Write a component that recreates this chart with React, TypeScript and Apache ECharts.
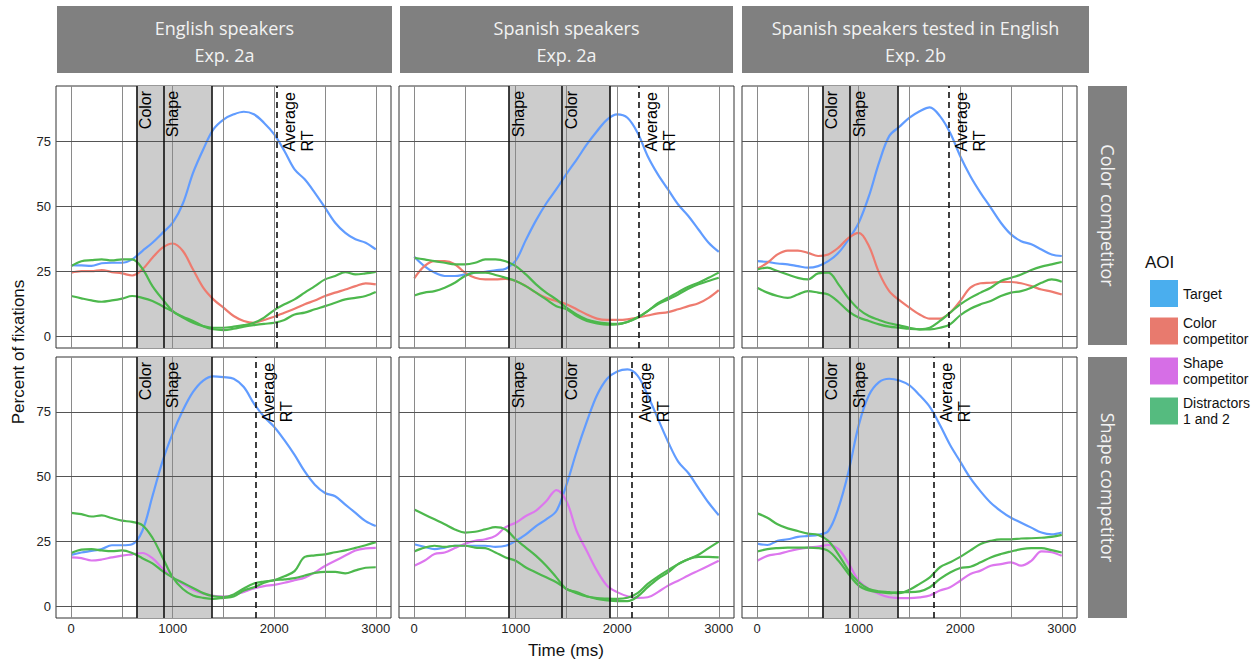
import React, { useEffect, useRef } from "react";
import * as echarts from "echarts";

// ---------- data ----------
const time = [0, 100, 200, 300, 400, 500, 600, 700, 800, 900, 1000, 1100, 1200, 1300, 1400, 1500, 1600, 1700, 1800, 1900, 2000, 2100, 2200, 2300, 2400, 2500, 2600, 2700, 2800, 2900, 3000];

const columnTitles = ["English speakers\nExp. 2a", "Spanish speakers\nExp. 2a", "Spanish speakers tested in English\nExp. 2b"];
const rowTitles = ["Color competitor", "Shape competitor"];
const aoiNames = ["Target", "Color competitor", "Shape competitor", "Distractors 1 and 2"];
const legendLabels = ["Target", "Color\ncompetitor", "Shape\ncompetitor", "Distractors\n1 and 2"];

const xTicks = [0, 1000, 2000, 3000];
const xGrid = [0, 500, 1000, 1500, 2000, 2500, 3000];
const yTicks = [0, 25, 50, 75];

// window boundaries per column: [first onset, second onset, end]
const windowBounds = [
  [643, 911, 1383],
  [936, 1456, 1929],
  [641, 915, 1382],
];
const windowLabels = [
  ["Color", "Shape"],
  ["Shape", "Color"],
  ["Color", "Shape"],
];
// average RT per column: [color-competitor row, shape-competitor row]
const averageRT = [
  [2025, 1818],
  [2211, 2146],
  [1889, 1735],
];

// English speakers, Exp. 2a
const enColorTarget = [27.3, 27.2, 27, 28, 28.2, 28.2, 29.5, 32.7, 35.9, 39.7, 43.6, 51, 62.8, 71.8, 79.5, 83.3, 85.3, 86.3, 85.3, 82, 77.6, 71.2, 64.1, 60.3, 55.1, 49.4, 43.6, 39.7, 37.2, 35.9, 33.3];
const enColorComp = [24.4, 25, 25, 25.4, 24.6, 24.1, 23.3, 25.6, 30.1, 34, 35.6, 32.7, 25.6, 18.6, 14.1, 10.9, 7.7, 5.8, 5.1, 6.2, 7.4, 9, 10.5, 12.2, 13.7, 15.4, 16.7, 17.9, 19.2, 20.3, 19.9];
const enColorDistA = [26.9, 28.8, 29.2, 29.5, 29.1, 29.5, 29.5, 26, 19.2, 14.1, 9.6, 7.1, 5.1, 3.8, 3.2, 3.2, 3.6, 4.2, 5.1, 7.1, 10, 12.2, 14.1, 16.7, 19.2, 21.8, 23.1, 24.6, 23.7, 24.1, 24.7];
const enColorDistB = [15.4, 14.5, 13.7, 13.2, 13.7, 14.4, 15.4, 14.7, 13.5, 11.5, 9.4, 7.4, 5.8, 3.8, 2.6, 2.3, 2.8, 3.6, 4.2, 4.7, 5.1, 6.2, 8.3, 9, 10.3, 11.5, 12.8, 14.1, 14.7, 15.4, 16.9];

const enShapeTarget = [19.8, 20.7, 21.3, 22, 23.5, 23.5, 23.9, 29, 42.4, 56, 66.7, 75.6, 82.7, 87.1, 88.7, 88.4, 87.8, 84.6, 78.2, 73.1, 69.2, 64.1, 58.4, 52, 46.9, 43.7, 42.4, 39.2, 36, 32.8, 30.9];
const enShapeComp = [18.8, 18.5, 17.6, 18, 18.8, 19.5, 20, 20.5, 18.5, 14.5, 11, 8.5, 6.3, 4.8, 4, 3.7, 4.2, 5.5, 6.8, 7.7, 8.2, 9, 10, 11, 13, 15.5, 17.5, 19.5, 21.5, 22.3, 22.5];
const enShapeDistA = [36, 35.5, 34.6, 35, 34, 33, 32.5, 31.3, 26.4, 18.8, 11.1, 6.6, 4.1, 3.2, 2.8, 3.2, 3.7, 6, 7.3, 9, 10, 10.3, 10.8, 11.8, 12.8, 13.2, 13.2, 12.6, 13.8, 14.8, 15];
const enShapeDistB = [20.5, 21.8, 22, 21.5, 21.2, 21.5, 20.5, 18.5, 16.5, 13.5, 11, 9, 7, 5, 3.8, 3.5, 4.5, 6.8, 8.7, 9.5, 10, 11.5, 13.5, 19, 19.6, 20, 20.8, 21.5, 22.5, 23.5, 24.7];

// Spanish speakers, Exp. 2a
const esColorTarget = [30.5, 26.9, 24.4, 23.1, 23.1, 23.7, 24.4, 24.7, 25.3, 25.9, 29, 37, 44.5, 51, 56.5, 62.4, 67.9, 73.7, 78.8, 83.3, 85.3, 84, 78.2, 69.2, 62.2, 56.4, 50.6, 46.2, 41, 35.9, 32.4];
const esColorComp = [22.2, 26.9, 28.8, 28.8, 27.6, 24.4, 22.4, 21.8, 21.8, 22, 21.2, 19.2, 16.7, 14.7, 13.5, 12.2, 10.3, 8.3, 6.7, 6.2, 6.2, 6.4, 7.1, 7.9, 8.7, 9.2, 10.3, 11.5, 12.6, 14.7, 17.7];
const esColorDistA = [30.1, 29.5, 28.8, 28.2, 27.6, 27.6, 28.2, 29.5, 29.5, 28.8, 26.9, 23.7, 19.9, 16.7, 14.1, 10.9, 8.3, 6.4, 5.4, 4.9, 4.7, 5.4, 7.1, 9.6, 12.6, 14.7, 16.9, 19, 20.5, 22.4, 24.4];
const esColorDistB = [15.6, 16.7, 17.3, 18.6, 20.5, 23.1, 24.4, 24.4, 23.5, 22.4, 21.2, 19.2, 16.7, 14.1, 11.5, 10.3, 7.7, 5.8, 4.9, 4.4, 4.5, 5.4, 7.1, 9.6, 12.2, 14.1, 16, 18.2, 19.9, 21.2, 22.4];

const esShapeTarget = [23.9, 22.9, 22, 22.6, 23.3, 23.3, 23.3, 23.3, 22.9, 23.3, 25.2, 27.7, 30.9, 33.5, 36.7, 46.9, 59.7, 71.2, 81.4, 87.8, 90.6, 91.4, 89, 81.4, 72.4, 63.5, 55.8, 51.4, 45.6, 39.9, 35.1];
const esShapeComp = [15.6, 17.5, 20.1, 20.7, 22.4, 24.1, 25.2, 25.8, 27.1, 30.5, 32.2, 34.8, 36.9, 40.5, 44.8, 40.5, 29, 21.3, 13.7, 7.9, 5.4, 3.8, 3.2, 3.4, 5.4, 7.9, 9.8, 11.8, 13.7, 15.6, 17.5];
const esShapeDistA = [37.3, 35.4, 33.5, 31.6, 29.6, 28.4, 28.7, 29.6, 30.5, 29.6, 25.8, 22.6, 19.4, 15.6, 11.1, 6.6, 5.4, 3.8, 2.8, 2.2, 1.9, 1.9, 3.7, 7.3, 10.5, 13, 16.2, 18.1, 19.8, 22.4, 24.9];
const esShapeDistB = [21.1, 22.6, 23.3, 22.9, 23.3, 23.3, 22.6, 22.4, 20.7, 18.8, 17.5, 14.9, 13, 11.1, 9.2, 6.6, 5, 3.7, 3.1, 2.9, 2.8, 3.2, 5, 8.6, 11.4, 13.9, 16.2, 18.1, 19, 19, 18.8];

// Spanish speakers tested in English, Exp. 2b
const s2bColorTarget = [28.8, 28.5, 27.9, 27.6, 26.9, 26.3, 26.9, 28.8, 32, 37.2, 43.6, 53.8, 66.7, 76.9, 80.5, 84, 86.5, 88, 84.6, 78.2, 69.2, 61.5, 55.1, 49.4, 43.6, 39.1, 36.5, 35.3, 33.3, 31.4, 30.8];
const s2bColorComp = [25.9, 28.2, 31.4, 32.9, 32.9, 32, 30.8, 31.4, 34, 37.8, 39.7, 34.6, 24.4, 17.3, 13.8, 10.9, 8.3, 6.7, 6.7, 9, 13.5, 18.6, 20.3, 20.5, 20.8, 20.8, 20.3, 19.2, 17.9, 17.1, 16];
const s2bColorDistA = [25.6, 26.3, 25, 23.7, 22.4, 21.8, 24.1, 24.4, 19.9, 14.5, 10.3, 7.7, 6.2, 4.9, 4.1, 3.2, 2.6, 3.2, 5.8, 9, 12.2, 14.7, 16.7, 18.6, 21.2, 22.4, 23.7, 25.4, 26.7, 27.6, 28.5];
const s2bColorDistB = [18.6, 16.7, 15.4, 14.7, 16, 17.3, 16.7, 16, 13.1, 9.5, 7.1, 5.8, 4.5, 3.6, 3.2, 2.8, 2.6, 2.6, 3.2, 4.5, 8, 10.5, 12.2, 13.5, 15.4, 16.7, 17.3, 18.6, 20.5, 21.8, 20.9];

const s2bShapeTarget = [24.1, 23.6, 25.2, 25.8, 26.7, 27.1, 27.5, 29, 37.9, 52, 69.9, 81.4, 86.5, 87.8, 87.1, 85.2, 81.4, 76.9, 69.9, 62.2, 55.8, 49.4, 44.3, 39.9, 36.7, 34.1, 32.2, 30.3, 28.4, 27.7, 28.4];
const s2bShapeComp = [17.5, 19.4, 20.1, 21.1, 22, 22.6, 23, 23.6, 22, 16.5, 9.8, 6.6, 4.7, 3.4, 3.1, 3.1, 3.4, 4.1, 6, 7.3, 9.8, 12.4, 13.7, 15.6, 16.2, 16.9, 15.6, 17.5, 21.1, 20.8, 19.4];
const s2bShapeDistA = [35.8, 34.1, 31.6, 30, 29, 28, 27.5, 25.2, 20, 13.7, 9.2, 6.6, 5.7, 5.4, 5, 6.3, 8.6, 11.1, 15, 16.9, 19, 21.5, 24, 25.2, 25.8, 25.8, 26.1, 26.2, 26.4, 26.7, 27.5];
const s2bShapeDistB = [21.1, 22, 22.4, 22.6, 22.6, 22.6, 22.4, 21.3, 17.5, 12.4, 7.9, 6, 5.4, 5, 5.4, 5.4, 5.7, 7.3, 10.5, 13, 14.7, 15.2, 16.9, 18.8, 20.1, 21.1, 22, 22.4, 22.4, 21.6, 20.7];

// panels[row][col] = [target, competitor, distractorA, distractorB]
const panels = [
  [
    [enColorTarget, enColorComp, enColorDistA, enColorDistB],
    [esColorTarget, esColorComp, esColorDistA, esColorDistB],
    [s2bColorTarget, s2bColorComp, s2bColorDistA, s2bColorDistB],
  ],
  [
    [enShapeTarget, enShapeComp, enShapeDistA, enShapeDistB],
    [esShapeTarget, esShapeComp, esShapeDistA, esShapeDistB],
    [s2bShapeTarget, s2bShapeComp, s2bShapeDistA, s2bShapeDistB],
  ],
];

// ---------- styling ----------
const LINE_COLORS: Record<string, string> = {
  Target: "#619CFF",
  "Color competitor": "#EE7B6F",
  "Shape competitor": "#DD77EE",
  "Distractors 1 and 2": "#4DB84D",
};
const KEY_COLORS: Record<string, string> = {
  Target: "#4AAEEE",
  "Color competitor": "#E87A6E",
  "Shape competitor": "#D66EE6",
  "Distractors 1 and 2": "#55BB7F",
};
const FONT = "'Liberation Sans', Arial, Helvetica, sans-serif";
const STRIP_FONT = "'Open Sans', 'Noto Sans', sans-serif";
const colLeft = [56, 399, 742];
const PANEL_W = 335;
const rowTop = [86, 357];
const rowH = [262, 261];
const X_MIN = -150, X_MAX = 3150, Y_MIN = -4.6, Y_MAX = 96.2;
const LABEL_TOP = 94.3;
const AVG_LABEL_Y = 71;

function buildOption() {
  const grid: any[] = [];
  const xAxis: any[] = [];
  const yAxis: any[] = [];
  const series: any[] = [];

  for (let r = 0; r < 2; r++) {
    for (let c = 0; c < 3; c++) {
      const idx = r * 3 + c;
      grid.push({
        left: colLeft[c], top: rowTop[r], width: PANEL_W, height: rowH[r],
        show: true, borderColor: "#333", borderWidth: 1, backgroundColor: "#fff",
      });
      const bottom = r === 1;
      xAxis.push({
        type: "value", gridIndex: idx, min: X_MIN, max: X_MAX,
        axisLine: { show: false }, splitLine: { show: false },
        axisTick: { show: bottom, customValues: xTicks, length: 3, lineStyle: { color: "#333" } },
        axisLabel: {
          show: bottom, customValues: xTicks, fontSize: 13, color: "#222", fontFamily: FONT, margin: 4,
          formatter: (v: number) => String(v),
        },
      });
      const leftCol = c === 0;
      yAxis.push({
        type: "value", gridIndex: idx, min: Y_MIN, max: Y_MAX,
        axisLine: { show: false }, splitLine: { show: false },
        axisTick: { show: leftCol, customValues: yTicks, length: 4, lineStyle: { color: "#333" } },
        axisLabel: { show: leftCol, customValues: yTicks, fontSize: 13, color: "#222", fontFamily: FONT, margin: 5, formatter: (v: number) => String(v) },
      });

      // background grid lines
      series.push({
        name: "_grid", type: "line", xAxisIndex: idx, yAxisIndex: idx, data: [], z: 1, silent: true,
        markLine: {
          silent: true, symbol: ["none", "none"], label: { show: false },
          lineStyle: { type: "solid", width: 1, color: "#8a8a8a" },
          data: [
            ...xGrid.map((v) => ({ xAxis: v, lineStyle: { color: "#8a8a8a", width: 1, type: "solid" } })),
            ...yTicks.map((v) => ({ yAxis: v, lineStyle: { color: "#555", width: 1, type: "solid" } })),
          ],
        },
      });
      // grey window
      const b = windowBounds[c];
      series.push({
        name: "_window", type: "line", xAxisIndex: idx, yAxisIndex: idx, data: [], z: 2, silent: true,
        markArea: {
          silent: true, itemStyle: { color: "#cccccc" },
          data: [[{ xAxis: b[0] }, { xAxis: b[2] }]],
        },
      });
      // window boundaries + average RT
      series.push({
        name: "_bounds", type: "line", xAxisIndex: idx, yAxisIndex: idx, data: [], z: 3, silent: true,
        markLine: {
          silent: true, symbol: ["none", "none"], label: { show: false },
          data: [
            ...b.map((v) => ({ xAxis: v, lineStyle: { color: "#111", width: 1.6, type: "solid" } })),
            { xAxis: averageRT[c][r], lineStyle: { color: "#111", width: 1.6, type: [6, 4] } },
          ],
        },
      });
      // data lines
      const arrs = panels[r][c];
      const names = ["Target", r === 0 ? "Color competitor" : "Shape competitor", "Distractors 1 and 2", "Distractors 1 and 2"];
      arrs.forEach((arr, k) => {
        series.push({
          name: names[k], type: "line", xAxisIndex: idx, yAxisIndex: idx, z: 4,
          data: time.map((t, i) => [t, arr[i]]),
          showSymbol: false, symbol: "none", smooth: 0.35,
          lineStyle: { width: 2.2, color: LINE_COLORS[names[k]] },
          itemStyle: { color: LINE_COLORS[names[k]] },
          emphasis: { disabled: true },
        });
      });
      // annotations
      const lab = windowLabels[c];
      series.push({
        name: "_labels", type: "scatter", xAxisIndex: idx, yAxisIndex: idx, z: 6, silent: true,
        symbolSize: 1, itemStyle: { color: "rgba(0,0,0,0)" },
        label: {
          show: true, position: "inside", rotate: 90, verticalAlign: "top",
          fontSize: 16, color: "#000", fontFamily: FONT, lineHeight: 18,
          textBorderWidth: 0, textBorderColor: "transparent", opacity: 1,
        },
        data: [
          { value: [b[0], LABEL_TOP], label: { formatter: lab[0], align: "right" } },
          { value: [b[1], LABEL_TOP], label: { formatter: lab[1], align: "right" } },
          { value: [averageRT[c][r], AVG_LABEL_Y], label: { formatter: "Average\nRT", align: "left", padding: [4, 0, 0, 0] } },
        ],
      });
    }
  }

  const graphic: any[] = [];
  // top strips
  const stripX = [57, 400, 742];
  const stripW = [335, 333, 347];
  columnTitles.forEach((t, i) => {
    graphic.push({ type: "rect", shape: { x: stripX[i], y: 6, width: stripW[i], height: 67 }, style: { fill: "#808080" }, silent: true });
    graphic.push({
      type: "text", x: stripX[i] + stripW[i] / 2, y: 41, silent: true,
      style: { text: t, fill: "#f2f2f2", font: `18px ${STRIP_FONT}`, align: "center", verticalAlign: "middle", textAlign: "center", textVerticalAlign: "middle", lineHeight: 27 },
    });
  });
  // right strips
  const rStripY = [86, 357];
  const rStripH = [259, 261];
  rowTitles.forEach((t, i) => {
    graphic.push({ type: "rect", shape: { x: 1088, y: rStripY[i], width: 39, height: rStripH[i] }, style: { fill: "#808080" }, silent: true });
    graphic.push({
      type: "text", x: 1107.5, y: rStripY[i] + rStripH[i] / 2, rotation: -Math.PI / 2, silent: true,
      style: { text: t, fill: "#f2f2f2", font: `18px ${STRIP_FONT}`, align: "center", verticalAlign: "middle", textAlign: "center", textVerticalAlign: "middle" },
    });
  });
  // axis titles
  graphic.push({
    type: "text", x: 18, y: 352, rotation: Math.PI / 2, silent: true,
    style: { text: "Percent of fixations", fill: "#111", font: `17px ${FONT}`, align: "center", verticalAlign: "middle", textAlign: "center", textVerticalAlign: "middle" },
  });
  graphic.push({
    type: "text", x: 566, y: 650, silent: true,
    style: { text: "Time (ms)", fill: "#111", font: `17px ${FONT}`, align: "center", verticalAlign: "middle", textAlign: "center", textVerticalAlign: "middle" },
  });
  // legend title
  graphic.push({
    type: "text", x: 1145, y: 262, silent: true,
    style: { text: "AOI", fill: "#111", font: `17px ${FONT}`, align: "left", verticalAlign: "middle", textAlign: "left", textVerticalAlign: "middle" },
  });

  return {
    animation: false,
    backgroundColor: "#ffffff",
    grid, xAxis, yAxis, series, graphic,
    legend: {
      orient: "vertical", left: 1145, top: 275, itemWidth: 28, itemHeight: 27, itemGap: 8,
      icon: "rect", selectedMode: false,
      data: aoiNames.map((n) => ({ name: n, itemStyle: { color: KEY_COLORS[n] } })),
      formatter: (n: string) => legendLabels[aoiNames.indexOf(n)],
      textStyle: { fontSize: 14, color: "#111", fontFamily: FONT, lineHeight: 16 },
    },
  };
}

export default function App() {
  const ref = useRef<HTMLDivElement>(null);
  useEffect(() => {
    if (!ref.current) return;
    const chart = echarts.init(ref.current, undefined, { renderer: "svg" });
    chart.setOption(buildOption() as any);
    return () => chart.dispose();
  }, []);
  return <div ref={ref} style={{ position: "fixed", left: 0, top: 0, width: 1251, height: 663 }} />;
}
